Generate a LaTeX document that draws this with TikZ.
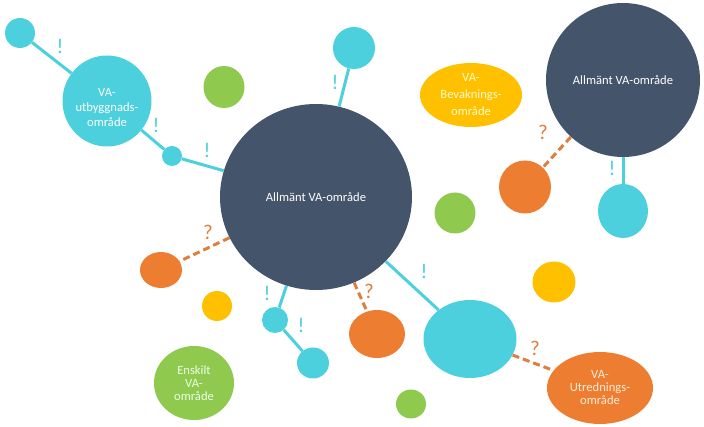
\documentclass[tikz,border=0pt]{standalone}
\usepackage{fontspec}
\setmainfont{Carlito}
\usepackage{tikz}
\usetikzlibrary{shapes.geometric, positioning}
\definecolor{vacyan}{RGB}{77,208,222}
\definecolor{vanavy}{RGB}{68,84,106}
\definecolor{vagreen}{RGB}{143,201,77}
\definecolor{vaorange}{RGB}{237,125,49}
\definecolor{vayellow}{RGB}{255,192,0}
\definecolor{qorange}{RGB}{222,125,60}

\begin{document}
\begin{tikzpicture}[x=1pt,y=-1pt,
  blob/.style={ellipse, inner sep=0pt, align=center, font=\fontsize{12.6}{14}\selectfont},
  link/.style={vacyan, line width=3pt},
  maybe/.style={qorange, line width=3pt, dash pattern=on 7pt off 4pt},
  bang/.style={vacyan, font=\fontsize{21}{21}\selectfont},
  quest/.style={qorange, font=\fontsize{21}{21}\selectfont}]
\useasboundingbox (0,0) rectangle (704,427);
% large areas
\node[blob, fill=vanavy, text=white, minimum width=192, minimum height=186] (allm) at (316,197) {Allm\"ant VA-omr\aa de};
\node[blob, fill=vanavy, text=white, minimum width=154, minimum height=154] (allm2) at (623,80) {Allm\"ant VA-omr\aa de};
\node[blob, fill=vacyan, minimum width=89, minimum height=91] (utb) at (107,101) {};
\node[blob, text=white, font=\fontsize{12.6}{15}\selectfont] (utbtext) at (107,108) {VA-\\utbyggnads-\\omr\aa de};
\node[blob, fill=vayellow, text=yellow!20, minimum width=102, minimum height=64, font=\fontsize{12.6}{17}\selectfont] (bev) at (471,95) {VA-\\Bevaknings-\\omr\aa de};
\node[blob, fill=vaorange, text=orange!15, minimum width=106, minimum height=72, font=\fontsize{12.6}{13}\selectfont] (utr) at (600,388) {VA-\\Utrednings-\\omr\aa de};
\node[blob, fill=vagreen, text=green!8, minimum width=80, minimum height=74, font=\fontsize{12.6}{13}\selectfont] (ensk) at (194,383) {Enskilt\\VA-\\omr\aa de};
% cyan bubbles
\node[blob, fill=vacyan, minimum width=30, minimum height=30] (c1) at (20,33) {};
\node[blob, fill=vacyan, minimum width=20, minimum height=20] (c2) at (172,156) {};
\node[blob, fill=vacyan, minimum width=42, minimum height=42] (c3) at (354,48) {};
\node[blob, fill=vacyan, minimum width=50, minimum height=54] (c4) at (623,211) {};
\node[blob, fill=vacyan, minimum width=93, minimum height=78] (c5) at (470,339) {};
\node[blob, fill=vacyan, minimum width=26, minimum height=26] (c6) at (275,320) {};
\node[blob, fill=vacyan, minimum width=32, minimum height=31] (c7) at (313,363) {};
% orange bubbles
\node[blob, fill=vaorange, minimum width=52, minimum height=53] (o1) at (525,187) {};
\node[blob, fill=vaorange, minimum width=42, minimum height=36] (o2) at (161,270) {};
\node[blob, fill=vaorange, minimum width=56, minimum height=48] (o3) at (377,334) {};
% green and yellow bubbles
\node[blob, fill=vagreen, minimum width=41, minimum height=42] (g1) at (224,87) {};
\node[blob, fill=vagreen, minimum width=41, minimum height=41] (g2) at (455,213) {};
\node[blob, fill=vagreen, minimum width=30, minimum height=29] (g3) at (411,404) {};
\node[blob, fill=vayellow, minimum width=43, minimum height=41] (y1) at (554,282) {};
\node[blob, fill=vayellow, minimum width=30, minimum height=30] (y2) at (217,306) {};
% connectors
\draw[link] (c1) -- (utb);
\draw[link] (utb) -- (c2);
\draw[link] (c2) -- (allm);
\draw[link] (allm) -- (c3);
\draw[link] (allm2) -- (c4);
\draw[link] (allm) -- (c5);
\draw[link] (allm) -- (c6);
\draw[link] (c6) -- (c7);
\draw[maybe] (allm2) -- (o1);
\draw[maybe] (allm) -- (o2);
\draw[maybe] (allm) -- (o3);
\draw[maybe] (c5) -- (utr);
% marks
\node[bang] (b1) at (60,46) {!};
\node[bang] (b2) at (156,125) {!};
\node[bang] (b3) at (207,150) {!};
\node[bang] (b4) at (335,82) {!};
\node[bang] (b5) at (612,168) {!};
\node[bang] (b6) at (424,271) {!};
\node[bang] (b7) at (267,293) {!};
\node[bang] (b8) at (301,325) {!};
\node[quest] (q1) at (543,132) {?};
\node[quest] (q2) at (208,232) {?};
\node[quest] (q3) at (369,291) {?};
\node[quest] (q4) at (535,348) {?};
\end{tikzpicture}
\end{document}
